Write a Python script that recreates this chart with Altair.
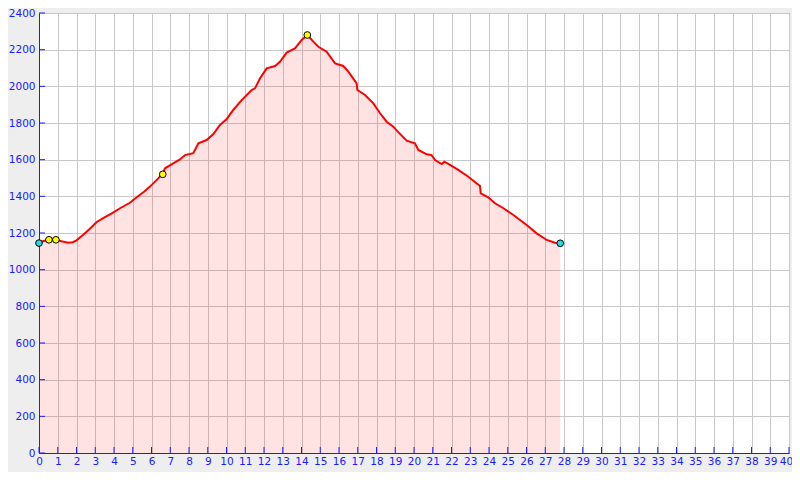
import altair as alt
import pandas as pd

km = [0, 0.2, 0.53, 0.7, 0.9, 1.2, 1.56, 1.8, 2.0, 2.36, 2.7, 3.08, 3.4, 3.88, 4.32, 4.85,
      5.21, 5.6, 5.92, 6.36, 6.6, 6.72, 7.16, 7.5, 7.79, 8.23, 8.5, 8.94, 9.3, 9.65, 10.0,
      10.36, 10.81, 11.34, 11.52, 11.79, 12.14, 12.59, 12.85, 13.21, 13.65, 14.01, 14.31,
      14.63, 14.9, 15.34, 15.79, 16.23, 16.5, 16.94, 16.98, 17.39, 17.83, 18.19, 18.54,
      18.9, 19.16, 19.61, 20.05, 20.23, 20.68, 20.94, 21.12, 21.48, 21.62, 21.92, 22.36,
      22.9, 23.52, 23.56, 23.96, 24.32, 24.77, 25.3, 26.01, 26.54, 27.08, 27.52, 27.8]
elev = [1145, 1155, 1163, 1168, 1163, 1155, 1147, 1150, 1160, 1190, 1222, 1260, 1280, 1307,
        1335, 1365, 1395, 1425, 1453, 1498, 1525, 1553, 1580, 1600, 1625, 1635, 1689, 1707,
        1740, 1789, 1820, 1871, 1925, 1980, 1989, 2044, 2098, 2111, 2134, 2184, 2207, 2253,
        2280, 2244, 2216, 2189, 2125, 2111, 2080, 2016, 1980, 1953, 1907, 1853, 1807, 1780,
        1750, 1704, 1689, 1653, 1629, 1625, 1598, 1576, 1589, 1571, 1544, 1507, 1456, 1416,
        1395, 1362, 1335, 1298, 1244, 1198, 1162, 1147, 1144]

pt_km = [0, 27.8, 0.53, 0.9, 6.6, 14.31]
pt_elev = [1145, 1144, 1163, 1163, 1520, 2280]
pt_kind = ["end", "end", "wp", "wp", "wp", "wp"]

x_ticks = list(range(0, 41))
y_ticks = list(range(0, 2401, 200))

prof = pd.DataFrame({"km": km, "elev": elev})
pts = pd.DataFrame({"km": pt_km, "elev": pt_elev, "kind": pt_kind})
xt = pd.DataFrame({"km": x_ticks})
yt = pd.DataFrame({"elev": y_ticks})

BLUE = "#1a1aff"
xs = alt.Scale(domain=[0, 40], nice=False, zero=False)
ys = alt.Scale(domain=[0, 2400], nice=False)

xaxis = alt.Axis(values=x_ticks, ticks=False, labelColor=BLUE, domainColor=BLUE,
                 gridColor="#c8c8c8", labelPadding=3, labelFontSize=10.5,
                 labelFont="DejaVu Sans", title=None, labelFlush=False,
                 labelOverlap=False, format="d",
                 labelOffset={"condition": {"test": "datum.value == 40", "value": -3}, "value": 0})
yaxis = alt.Axis(values=y_ticks, ticks=False, labelColor=BLUE, domainColor=BLUE,
                 gridColor="#c8c8c8", labelPadding=4, labelFontSize=10.5,
                 labelFont="DejaVu Sans", title=None, labelOverlap=False, format="d",
                 labelFlush=False)

X = alt.X("km:Q", scale=xs, axis=xaxis)
Y = alt.Y("elev:Q", scale=ys, axis=yaxis)

area = alt.Chart(prof).mark_area(color="#ff0000", opacity=0.11).encode(x=X, y=Y)
line = alt.Chart(prof).mark_line(color="#ff0000", strokeWidth=2).encode(x=X, y=Y)
xtick = alt.Chart(xt).mark_rule(color=BLUE, strokeWidth=1).encode(
    x=X, y=alt.value(440), y2=alt.value(434)
)
ytick = alt.Chart(yt).mark_rule(color=BLUE, strokeWidth=1).encode(
    y=Y, x=alt.value(0), x2=alt.value(6)
)
points = alt.Chart(pts).mark_point(filled=True, size=45, stroke="#000000",
                                    strokeWidth=1, opacity=1).encode(
    x=X, y=Y,
    fill=alt.Fill("kind:N", scale=alt.Scale(domain=["end", "wp"],
                                             range=["#22dde8", "#ffff00"]), legend=None),
)

chart = alt.layer(area, line, xtick, ytick, points).properties(
    width=750, height=440,
    autosize=alt.AutoSizeParams(type="none"),
    padding={"left": 31, "top": 5, "right": 3, "bottom": 19},
    background="#eeeeee",
).configure_view(fill="#ffffff", stroke=BLUE, strokeWidth=1)

chart.save("out.html", embed_options={"renderer": "svg", "actions": False})
